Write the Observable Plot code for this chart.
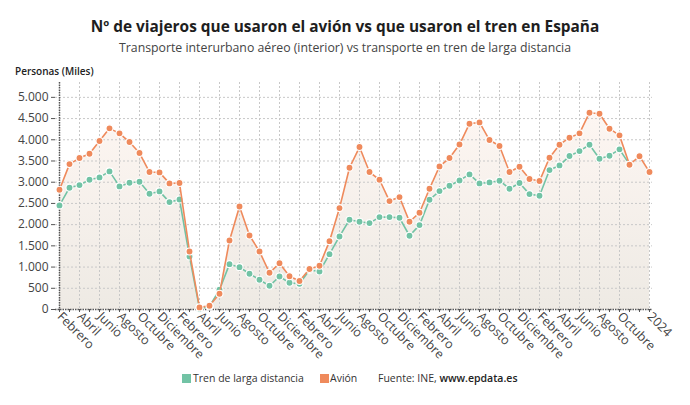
<!DOCTYPE html>
<html><head><meta charset="utf-8">
<script src="https://cdn.jsdelivr.net/npm/d3@7"></script>
<script src="https://cdn.jsdelivr.net/npm/@observablehq/plot@0.6"></script>
<style>
body{margin:0;background:#fff;font-family:"Open Sans",sans-serif;color:#333;width:690px;height:405px;position:relative;overflow:hidden}
#title{position:absolute;top:17px;left:0;width:690px;text-align:center;font-weight:700;font-size:15.4px;color:#1e1e1e;line-height:20px}
#subtitle{position:absolute;top:39px;left:0;width:690px;text-align:center;font-size:12.3px;color:#444;line-height:18px}
#ylabel{position:absolute;top:63px;left:15px;font-size:10px;font-weight:600;color:#222;line-height:16px}
#chart{position:absolute;top:75px;left:0}
#legend{position:absolute;top:370px;left:0;width:690px;height:16px;font-size:10.5px;color:#333;line-height:16px}
.sw{position:absolute;top:4px;width:9px;height:9px}
.lt{position:absolute;top:0}
</style></head><body>
<div id="title">Nº de viajeros que usaron el avión vs que usaron el tren en España</div>
<div id="subtitle">Transporte interurbano aéreo (interior) vs transporte en tren de larga distancia</div>
<div id="ylabel">Personas (Miles)</div>
<div id="chart"></div>
<div id="legend">
  <span class="sw" style="left:182px;background:#72c3a5"></span><span class="lt" style="left:193px">Tren de larga distancia</span>
  <span class="sw" style="left:320px;background:#ef8a5c"></span><span class="lt" style="left:330px">Avión</span>
  <span class="lt" style="left:378px">Fuente: INE, <b style="font-weight:600;color:#222">www.epdata.es</b></span>
</div>
<script>
const meses = [
 "2019-02","2019-03","2019-04","2019-05","2019-06","2019-07","2019-08","2019-09","2019-10","2019-11","2019-12",
 "2020-01","2020-02","2020-03","2020-04","2020-05","2020-06","2020-07","2020-08","2020-09","2020-10","2020-11","2020-12",
 "2021-01","2021-02","2021-03","2021-04","2021-05","2021-06","2021-07","2021-08","2021-09","2021-10","2021-11","2021-12",
 "2022-01","2022-02","2022-03","2022-04","2022-05","2022-06","2022-07","2022-08","2022-09","2022-10","2022-11","2022-12",
 "2023-01","2023-02","2023-03","2023-04","2023-05","2023-06","2023-07","2023-08","2023-09","2023-10","2023-11","2023-12",
 "2024-01"
];
const avion = [
 2823,3427,3569,3671,3970,4269,4151,3947,3687,3239,3231,
 2972,2980,1368,50,90,370,1627,2429,1745,1368,865,1090,
 785,670,955,1030,1611,2390,3341,3829,3239,3058,2555,2649,
 2068,2280,2846,3373,3569,3888,4379,4410,3994,3852,3239,3365,
 3074,3027,3577,3884,4049,4151,4638,4615,4261,4104,3412,3612,
 3239
];
const tren = [
 2453,2870,2932,3058,3113,3255,2901,2987,3011,2728,2783,
 2531,2594,1250,20,70,465,1069,998,842,700,558,778,
 629,605,930,895,1305,1722,2115,2068,2036,2178,2178,2162,
 1738,1989,2587,2790,2917,3042,3184,2972,2995,3035,2846,2980,
 2720,2681,3286,3396,3616,3733,3884,3554,3625,3774,3420
];
const nombresMes = ["Enero","Febrero","Marzo","Abril","Mayo","Junio","Julio","Agosto","Septiembre","Octubre","Noviembre","Diciembre"];
const ticksX = [
 "2019-02","2019-04","2019-06","2019-08","2019-10","2019-12",
 "2020-02","2020-04","2020-06","2020-08","2020-10","2020-12",
 "2021-02","2021-04","2021-06","2021-08","2021-10","2021-12",
 "2022-02","2022-04","2022-06","2022-08","2022-10","2022-12",
 "2023-02","2023-04","2023-06","2023-08","2023-10","2024-01"
];
const ticksY = [0,500,1000,1500,2000,2500,3000,3500,4000,4500,5000];
const colorTren = "#72c3a5";
const colorAvion = "#ef8a5c";

const datos = meses.map((m, i) => ({mes: m, avion: avion[i], tren: tren[i]}));
const datosTren = datos.filter(d => d.tren != null);

const fmtY = d3.formatLocale({decimal: ",", thousands: ".", grouping: [3], currency: ["", "€"]}).format(",d");
const fmtX = m => {
  const [y, mm] = m.split("-").map(Number);
  return mm === 1 ? String(y) : nombresMes[mm - 1];
};

const plot = Plot.plot({
  width: 690, height: 289,
  marginLeft: 55, marginRight: 38, marginTop: 7, marginBottom: 55,
  style: {fontFamily: "Open Sans", fontSize: "12px", color: "#444", background: "transparent"},
  x: {type: "point", domain: meses, padding: 0, label: null},
  y: {domain: [0, 5350], label: null},
  marks: [
    Plot.areaY(datos, {x: "mes", y: "avion", fill: "url(#gradAvion)"}),
    Plot.ruleX(ticksX, {stroke: "#c8c8c8", strokeDasharray: "2,2"}),
    Plot.ruleY(ticksY.slice(1), {stroke: "#c8c8c8", strokeDasharray: "2,2"}),
    Plot.axisY(ticksY, {tickSize: 4, tickPadding: 3, tickFormat: fmtY, stroke: "#555", fill: "#444", fontSize: 12, label: null}),
    Plot.axisX(meses, {tickSize: 3, tickFormat: () => "", stroke: "#555", label: null}),
    Plot.axisX(ticksX, {tickSize: 3, tickPadding: 2, tickRotate: 45, tickFormat: fmtX, stroke: "#555", fill: "#444", fontSize: 12.5, label: null}),
    Plot.ruleX([meses[0]], {stroke: "#555", strokeWidth: 1.5, strokeDasharray: "1.5,1"}),
    Plot.ruleY([0], {stroke: "#555", strokeWidth: 1.5, strokeDasharray: "1.5,1"}),
    Plot.lineY(datosTren, {x: "mes", y: "tren", stroke: colorTren, strokeWidth: 1.6}),
    Plot.dot(datosTren, {x: "mes", y: "tren", r: 3.5, fill: colorTren, stroke: "white", strokeWidth: 1.1}),
    Plot.lineY(datos, {x: "mes", y: "avion", stroke: colorAvion, strokeWidth: 1.6}),
    Plot.dot(datos, {x: "mes", y: "avion", r: 3.5, fill: colorAvion, stroke: "white", strokeWidth: 1.1})
  ]
});

const defs = d3.select(plot).insert("defs", ":first-child");
const grad = defs.append("linearGradient").attr("id", "gradAvion")
  .attr("x1", 0).attr("y1", 0).attr("x2", 0).attr("y2", 1);
grad.append("stop").attr("offset", "0%").attr("stop-color", "#fdf6f2");
grad.append("stop").attr("offset", "100%").attr("stop-color", "#eeeae4");

document.getElementById("chart").appendChild(plot);
</script>
</body></html>
